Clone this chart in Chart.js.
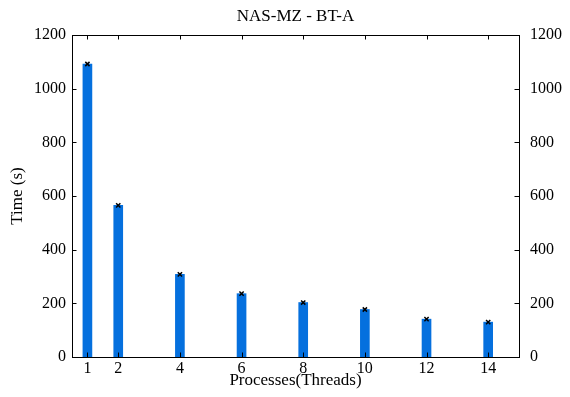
<!DOCTYPE html>
<html>
<head>
<meta charset="utf-8">
<script src="https://cdn.jsdelivr.net/npm/chart.js@4/dist/chart.umd.min.js"></script>
<style>
  html, body { margin: 0; padding: 0; background: #fff; }
  #wrap { width: 570px; height: 397px; position: relative; }
</style>
</head>
<body>
<div id="wrap"><canvas id="c"></canvas></div>
<script>
const chartTitle = 'NAS-MZ - BT-A';
const xTitle = 'Processes(Threads)';
const yTitle = 'Time (s)';
const threads = [1, 2, 4, 6, 8, 10, 12, 14];
const times = [1092, 565, 308, 236, 203, 177, 141, 130];
const xTickValues = [1, 2, 4, 6, 8, 10, 12, 14];
const yTickValues = [0, 200, 400, 600, 800, 1000, 1200];

const barColor = '#0570de';
const serif = 'Liberation Serif';

const barData = threads.map((t, i) => ({ x: t, y: times[i] }));

const fixedTicks = vals => scale => { scale.ticks = vals.map(v => ({ value: v })); };
const plain = v => String(v);

const inwardTicks = {
  id: 'inwardTicks',
  afterDraw(chart) {
    const ctx = chart.ctx;
    const len = 4.5;
    ctx.save();
    ctx.strokeStyle = '#000';
    ctx.lineWidth = 1;
    ctx.beginPath();
    const s = chart.scales;
    for (const id of ['x', 'x2']) {
      const sc = s[id];
      for (const t of sc.ticks) {
        const px = Math.round(sc.getPixelForValue(t.value)) + 0.5;
        if (id === 'x') { ctx.moveTo(px, sc.top); ctx.lineTo(px, sc.top - len); }
        else { ctx.moveTo(px, sc.bottom); ctx.lineTo(px, sc.bottom + len); }
      }
    }
    for (const id of ['y', 'y2']) {
      const sc = s[id];
      for (const t of sc.ticks) {
        const py = Math.round(sc.getPixelForValue(t.value)) + 0.5;
        if (id === 'y') { ctx.moveTo(sc.right, py); ctx.lineTo(sc.right + len, py); }
        else { ctx.moveTo(sc.left, py); ctx.lineTo(sc.left - len, py); }
      }
    }
    ctx.stroke();
    ctx.restore();
  }
};

new Chart(document.getElementById('c'), {
  data: {
    datasets: [
      {
        type: 'bar',
        data: barData,
        backgroundColor: barColor,
        borderWidth: 0,
        barThickness: 9,
        xAxisID: 'x', yAxisID: 'y',
        order: 2
      },
      {
        type: 'scatter',
        data: barData,
        pointStyle: 'crossRot',
        pointRadius: 3,
        borderColor: '#000',
        borderWidth: 1.5,
        xAxisID: 'x', yAxisID: 'y',
        order: 1
      }
    ]
  },
  plugins: [inwardTicks],
  options: {
    responsive: true,
    maintainAspectRatio: false,
    animation: false,
    layout: { padding: 0 },
    plugins: { legend: { display: false }, tooltip: { enabled: false }, title: { display: false } },
    scales: {
      x: {
        type: 'linear', position: 'bottom', min: 0.5, max: 15, offset: false,
        afterBuildTicks: fixedTicks(xTickValues),
        afterFit: s => { s.height = 40; },
        grid: { display: false, drawTicks: false, offset: false },
        border: { display: true, color: '#000', width: 1 },
        ticks: { color: '#000', font: { family: serif, size: 16 }, padding: 2, maxRotation: 0, autoSkip: false, callback: plain },
        title: { display: true, text: xTitle, color: '#000', font: { family: serif, size: 17 }, padding: { top: 0, bottom: 6 } }
      },
      x2: {
        type: 'linear', position: 'top', min: 0.5, max: 15, offset: false,
        afterBuildTicks: fixedTicks(xTickValues),
        afterFit: s => { s.height = 35; },
        grid: { display: false, drawTicks: false, offset: false },
        border: { display: true, color: '#000', width: 1 },
        ticks: { display: false },
        title: { display: true, text: chartTitle, color: '#000', font: { family: serif, size: 17 }, padding: { top: 6, bottom: 0 } }
      },
      y: {
        type: 'linear', position: 'left', min: 0, max: 1200,
        afterBuildTicks: fixedTicks(yTickValues),
        afterFit: s => { s.width = 72; },
        grid: { display: false, drawTicks: false },
        border: { display: true, color: '#000', width: 1 },
        ticks: { color: '#000', font: { family: serif, size: 16 }, padding: 6, callback: plain },
        title: { display: true, text: yTitle, color: '#000', font: { family: serif, size: 17 }, padding: { top: 7, bottom: 0 } }
      },
      y2: {
        type: 'linear', position: 'right', min: 0, max: 1200,
        afterBuildTicks: fixedTicks(yTickValues),
        afterFit: s => { s.width = 51; },
        grid: { display: false, drawTicks: false },
        border: { display: true, color: '#000', width: 1 },
        ticks: { color: '#000', font: { family: serif, size: 16 }, padding: 11, callback: plain }
      }
    }
  }
});
</script>
</body>
</html>
